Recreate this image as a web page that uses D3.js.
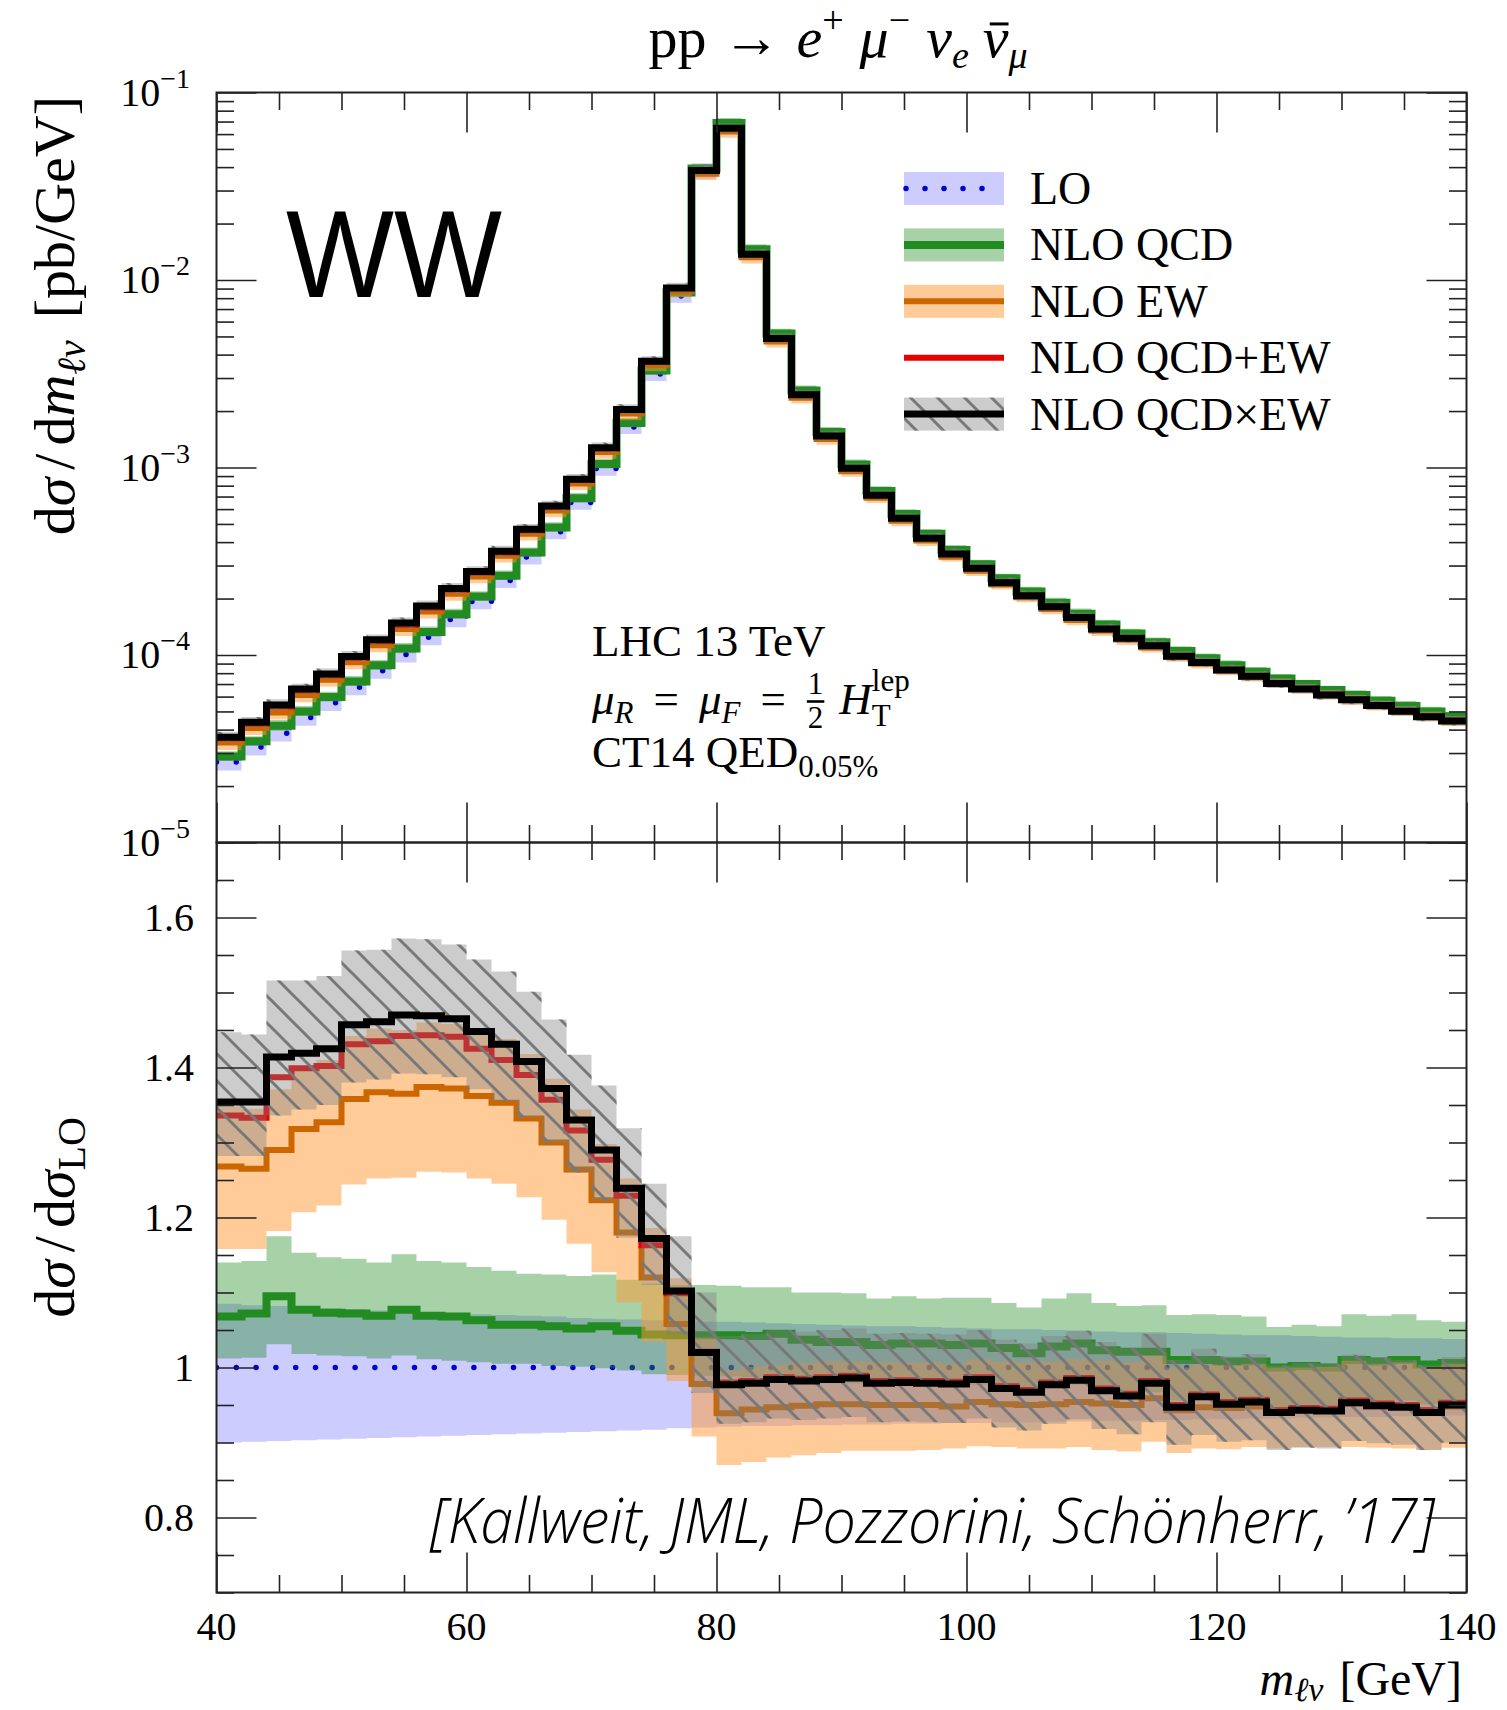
<!DOCTYPE html>
<html>
<head>
<meta charset="utf-8">
<title>WW: pp → e+ μ- νe ν̄μ</title>
<script src="https://cdn.jsdelivr.net/npm/d3@7"></script>
<style>
  html, body { margin: 0; padding: 0; background: #fff; }
  svg text { font-family: "Liberation Serif", "DejaVu Serif", serif; fill: #000; }
</style>
</head>
<body>
<svg id="chart" width="1507" height="1710" viewBox="0 0 1507 1710"></svg>
<script>
// ---------------- Binning: 2 GeV bins, 40–140 GeV ----------------
const massLow = [40, 42, 44, 46, 48, 50, 52, 54, 56, 58,
                 60, 62, 64, 66, 68, 70, 72, 74, 76, 78,
                 80, 82, 84, 86, 88, 90, 92, 94, 96, 98,
                 100, 102, 104, 106, 108, 110, 112, 114, 116, 118,
                 120, 122, 124, 126, 128, 130, 132, 134, 136, 138];
const massMax = 140;

// LO differential cross section dσ/dm_lν [pb/GeV]
const loXsec = [2.69e-5, 3.23e-5, 3.83e-5, 4.64e-5, 5.56e-5, 6.74e-5, 8.25e-5, 1.007e-4, 1.242e-4, 1.546e-4,
                1.927e-4, 2.50e-4, 3.33e-4, 4.54e-4, 6.51e-4, 9.88e-4, 1.646e-3, 3.15e-3, 8.22e-3, 3.765e-2,
                6.60e-2, 1.40e-2, 4.96e-3, 2.485e-3, 1.494e-3, 1.004e-3, 7.27e-4, 5.47e-4, 4.29e-4, 3.53e-4,
                2.95e-4, 2.50e-4, 2.14e-4, 1.85e-4, 1.61e-4, 1.42e-4, 1.275e-4, 1.145e-4, 1.04e-4, 9.5e-5,
                8.75e-5, 8.08e-5, 7.5e-5, 6.98e-5, 6.5e-5, 6.06e-5, 5.66e-5, 5.3e-5, 4.98e-5, 4.68e-5];

// LO scale band (ratio to LO)
const loBandLo = [0.900, 0.901, 0.902, 0.903, 0.904, 0.905, 0.906, 0.907, 0.908, 0.909,
                  0.910, 0.911, 0.912, 0.913, 0.914, 0.915, 0.916, 0.917, 0.919, 0.920,
                  0.921, 0.922, 0.922, 0.923, 0.923, 0.924, 0.924, 0.925, 0.925, 0.926,
                  0.926, 0.927, 0.927, 0.928, 0.928, 0.929, 0.929, 0.930, 0.930, 0.931,
                  0.931, 0.932, 0.932, 0.933, 0.933, 0.934, 0.934, 0.935, 0.935, 0.936];
const loBandHi = [1.085, 1.083, 1.082, 1.080, 1.079, 1.078, 1.076, 1.075, 1.074, 1.072,
                  1.071, 1.070, 1.069, 1.068, 1.066, 1.065, 1.064, 1.063, 1.062, 1.061,
                  1.061, 1.060, 1.059, 1.058, 1.057, 1.056, 1.055, 1.055, 1.054, 1.053,
                  1.052, 1.051, 1.051, 1.050, 1.049, 1.048, 1.047, 1.047, 1.046, 1.045,
                  1.044, 1.043, 1.043, 1.042, 1.041, 1.040, 1.040, 1.039, 1.039, 1.038];

// NLO QCD (ratio to LO)
const qcdRatio = [1.068, 1.072, 1.095, 1.077, 1.073, 1.072, 1.069, 1.077, 1.069, 1.068,
                  1.063, 1.057, 1.057, 1.055, 1.052, 1.055, 1.049, 1.044, 1.043, 1.043,
                  1.043, 1.042, 1.045, 1.037, 1.034, 1.034, 1.030, 1.032, 1.032, 1.030,
                  1.032, 1.026, 1.019, 1.028, 1.032, 1.023, 1.021, 1.021, 1.010, 1.010,
                  1.008, 1.008, 1.000, 1.002, 1.000, 1.010, 1.008, 1.010, 1.004, 1.006];
const qcdLo = [1.012, 1.013, 1.031, 1.018, 1.016, 1.015, 1.012, 1.016, 1.011, 1.009,
               1.007, 1.005, 1.005, 1.002, 1.001, 0.999, 0.996, 0.991, 0.990, 0.989,
               0.988, 0.987, 0.990, 0.982, 0.979, 0.979, 0.975, 0.977, 0.977, 0.975,
               0.977, 0.972, 0.965, 0.974, 0.977, 0.969, 0.967, 0.967, 0.956, 0.956,
               0.955, 0.955, 0.947, 0.949, 0.947, 0.956, 0.955, 0.956, 0.951, 0.953];
const qcdHi = [1.140, 1.142, 1.175, 1.153, 1.147, 1.145, 1.140, 1.151, 1.142, 1.140,
               1.134, 1.129, 1.125, 1.124, 1.122, 1.124, 1.117, 1.112, 1.110, 1.110,
               1.109, 1.107, 1.107, 1.100, 1.100, 1.099, 1.092, 1.095, 1.092, 1.093,
               1.093, 1.086, 1.080, 1.092, 1.099, 1.086, 1.082, 1.083, 1.070, 1.071,
               1.070, 1.068, 1.054, 1.057, 1.055, 1.071, 1.069, 1.071, 1.063, 1.061];

// NLO EW (ratio to LO)
const ewRatio = [1.268, 1.265, 1.290, 1.318, 1.327, 1.358, 1.367, 1.365, 1.374, 1.372,
                 1.362, 1.353, 1.332, 1.300, 1.264, 1.223, 1.180, 1.120, 1.058, 0.978,
                 0.939, 0.944, 0.947, 0.949, 0.951, 0.951, 0.950, 0.950, 0.950, 0.948,
                 0.954, 0.951, 0.950, 0.951, 0.954, 0.952, 0.950, 0.959, 0.943, 0.947,
                 0.946, 0.948, 0.943, 0.943, 0.944, 0.952, 0.948, 0.950, 0.943, 0.948];
const ewLo = [1.158, 1.158, 1.182, 1.207, 1.216, 1.244, 1.252, 1.253, 1.261, 1.260,
              1.252, 1.245, 1.227, 1.197, 1.165, 1.127, 1.087, 1.035, 0.982, 0.908,
              0.870, 0.874, 0.880, 0.883, 0.886, 0.889, 0.889, 0.889, 0.890, 0.892,
              0.895, 0.894, 0.892, 0.892, 0.894, 0.890, 0.888, 0.901, 0.886, 0.892,
              0.891, 0.894, 0.892, 0.894, 0.894, 0.894, 0.893, 0.892, 0.890, 0.893];
const ewHi = [1.348, 1.345, 1.371, 1.400, 1.410, 1.442, 1.452, 1.450, 1.460, 1.458,
              1.448, 1.438, 1.418, 1.385, 1.344, 1.298, 1.252, 1.186, 1.119, 1.040,
              0.996, 1.001, 1.004, 1.006, 1.008, 1.008, 1.007, 1.007, 1.007, 1.005,
              1.011, 1.008, 1.007, 1.008, 1.011, 1.009, 1.007, 1.016, 1.000, 1.004,
              1.003, 1.005, 1.000, 1.000, 1.001, 1.009, 1.005, 1.007, 1.000, 1.005];

// NLO QCD+EW (ratio to LO)
const qcdPlusEwRatio = [1.336, 1.333, 1.387, 1.399, 1.402, 1.431, 1.435, 1.442, 1.443, 1.441,
                        1.425, 1.410, 1.390, 1.357, 1.316, 1.277, 1.229, 1.163, 1.099, 1.021,
                        0.980, 0.982, 0.987, 0.985, 0.987, 0.989, 0.982, 0.983, 0.982, 0.981,
                        0.987, 0.975, 0.970, 0.980, 0.986, 0.972, 0.965, 0.982, 0.950, 0.964,
                        0.954, 0.957, 0.943, 0.946, 0.945, 0.956, 0.952, 0.950, 0.943, 0.953];

// NLO QCD×EW (ratio to LO)
const qcdTimesEwRatio = [1.354, 1.354, 1.414, 1.419, 1.425, 1.457, 1.461, 1.470, 1.469, 1.465,
                         1.448, 1.431, 1.408, 1.372, 1.330, 1.290, 1.239, 1.172, 1.102, 1.020,
                         0.977, 0.979, 0.984, 0.982, 0.984, 0.986, 0.979, 0.980, 0.979, 0.978,
                         0.984, 0.972, 0.967, 0.977, 0.983, 0.969, 0.962, 0.979, 0.947, 0.961,
                         0.951, 0.954, 0.940, 0.943, 0.942, 0.953, 0.949, 0.947, 0.940, 0.950];
const qcdTimesEwLo = [1.282, 1.282, 1.336, 1.344, 1.350, 1.380, 1.384, 1.392, 1.391, 1.387,
                      1.371, 1.355, 1.333, 1.299, 1.260, 1.222, 1.173, 1.110, 1.044, 0.966,
                      0.925, 0.927, 0.932, 0.930, 0.932, 0.934, 0.927, 0.928, 0.927, 0.926,
                      0.932, 0.920, 0.916, 0.925, 0.931, 0.918, 0.911, 0.927, 0.897, 0.910,
                      0.901, 0.903, 0.890, 0.893, 0.892, 0.902, 0.899, 0.897, 0.890, 0.900];
const qcdTimesEwHi = [1.447, 1.444, 1.516, 1.516, 1.522, 1.556, 1.557, 1.572, 1.571, 1.564,
                      1.544, 1.528, 1.501, 1.464, 1.417, 1.376, 1.319, 1.245, 1.175, 1.100,
                      1.042, 1.045, 1.050, 1.048, 1.050, 1.052, 1.045, 1.046, 1.045, 1.044,
                      1.050, 1.037, 1.032, 1.042, 1.049, 1.034, 1.026, 1.045, 1.010, 1.025,
                      1.015, 1.018, 1.003, 1.006, 1.005, 1.017, 1.013, 1.010, 1.003, 1.014];

// Axis ticks and labels
const xMajorTicks = [40, 60, 80, 100, 120, 140];
const xMinorTicks = [40, 45, 50, 55, 60, 65, 70, 75, 80, 85, 90, 95, 100, 105, 110, 115, 120, 125, 130, 135, 140];
const xsecDecades = [1e-5, 1e-4, 1e-3, 1e-2, 1e-1];
const xsecDecadeExponents = ["−5", "−4", "−3", "−2", "−1"];
const ratioMajorTicks = [0.8, 1.0, 1.2, 1.4, 1.6];
const ratioTickLabels = ["0.8", "1", "1.2", "1.4", "1.6"];
const ratioMinorTicks = [0.70, 0.75, 0.80, 0.85, 0.90, 0.95, 1.00, 1.05, 1.10, 1.15, 1.20,
                         1.25, 1.30, 1.35, 1.40, 1.45, 1.50, 1.55, 1.60, 1.65, 1.70];
const legendLabels = ["LO", "NLO QCD", "NLO EW", "NLO QCD+EW", "NLO QCD×EW"];

// ---------------- Layout and scales ----------------
const L = 216.5, R = 1466.5, T = 92.5, M = 842.5, B = 1592.5;
const svg = d3.select("#chart");
const defs = svg.append("defs");

const x = d3.scaleLinear().domain([40, 140]).range([L, R]);
const yXs = d3.scaleLog().domain([1e-5, 1e-1]).range([M, T]);
const yRat = d3.scaleLinear().domain([0.7, 1.7]).range([B, M]);

defs.append("clipPath").attr("id", "clipTop").append("rect")
  .attr("x", L).attr("y", T).attr("width", R - L).attr("height", M - T);
defs.append("clipPath").attr("id", "clipBot").append("rect")
  .attr("x", L).attr("y", M).attr("width", R - L).attr("height", B - M);

const hatch = defs.append("pattern").attr("id", "hatch")
  .attr("patternUnits", "userSpaceOnUse").attr("width", 27).attr("height", 27);
hatch.append("path").attr("d", "M-7,20L7,34M0,0L27,27M20,-7L34,7")
  .attr("stroke", "#787878").attr("stroke-width", 3).attr("fill", "none");

const unity = massLow.map(() => 1);

// Drawing order: each band is followed by its central line; QCD×EW on top
const styles = {
  lo:    { fill: "#ccccff", stroke: "#0000cc", width: 5.5, dash: "0 19.8" },
  qcd:   { fill: "rgba(34,139,34,0.4)", stroke: "#228b22", width: 8 },
  ew:    { fill: "rgba(255,153,51,0.5)", stroke: "#cc6600", width: 6 },
  sum:   { stroke: "#e60000", width: 6 },
  prod:  { fill: "rgba(128,128,128,0.4)", stroke: "#000", width: 7 }
};
const layers = [
  { kind: "band", lo: loBandLo, hi: loBandHi, s: styles.lo },
  { kind: "line", v: unity, s: styles.lo },
  { kind: "band", lo: qcdLo, hi: qcdHi, s: styles.qcd },
  { kind: "line", v: qcdRatio, s: styles.qcd },
  { kind: "band", lo: ewLo, hi: ewHi, s: styles.ew },
  { kind: "line", v: ewRatio, s: styles.ew },
  { kind: "line", v: qcdPlusEwRatio, s: styles.sum },
  { kind: "band", lo: qcdTimesEwLo, hi: qcdTimesEwHi, s: styles.prod, hatch: true },
  { kind: "line", v: qcdTimesEwRatio, s: styles.prod }
];

function stepPoints(fn) {
  const pts = massLow.map((m, i) => Object.assign({ m }, fn(i)));
  pts.push(Object.assign({}, pts[pts.length - 1], { m: massMax }));
  return pts;
}

function drawPanel(clipId, yScale, toPanel) {
  const g = svg.append("g").attr("clip-path", `url(#${clipId})`);
  const line = d3.line().x(d => x(d.m)).y(d => yScale(d.v)).curve(d3.curveStepAfter);
  const area = d3.area().x(d => x(d.m)).y0(d => yScale(d.lo)).y1(d => yScale(d.hi)).curve(d3.curveStepAfter);
  layers.forEach(ly => {
    if (ly.kind === "band") {
      const pts = stepPoints(i => ({ lo: toPanel(i, ly.lo[i]), hi: toPanel(i, ly.hi[i]) }));
      g.append("path").attr("d", area(pts)).attr("fill", ly.s.fill);
      if (ly.hatch) g.append("path").attr("d", area(pts)).attr("fill", "url(#hatch)");
    } else {
      const pts = stepPoints(i => ({ v: toPanel(i, ly.v[i]) }));
      const p = g.append("path").attr("d", line(pts)).attr("fill", "none")
        .attr("stroke", ly.s.stroke).attr("stroke-width", ly.s.width)
        .attr("stroke-linejoin", "miter");
      if (ly.s.dash) p.attr("stroke-dasharray", ly.s.dash).attr("stroke-linecap", "round");
    }
  });
}

drawPanel("clipTop", yXs, (i, r) => loXsec[i] * r);
drawPanel("clipBot", yRat, (i, r) => r);

// ---------------- Frames and ticks ----------------
const axes = svg.append("g");
function tickRow(transform, axisFn, scale, values, size) {
  const g = axes.append("g").attr("transform", transform);
  g.call(axisFn(scale).tickValues(values).tickSize(size).tickFormat(""));
  g.select(".domain").remove();
  g.selectAll(".tick line").attr("stroke", "#222").attr("stroke-width", 1.6);
}
const xMinorOnly = xMinorTicks.filter(v => xMajorTicks.indexOf(v) < 0);
[[T, d3.axisBottom], [M, d3.axisTop], [M, d3.axisBottom], [B, d3.axisTop]].forEach(([yy, fn]) => {
  tickRow(`translate(0,${yy})`, fn, x, xMinorOnly, 17.5);
  tickRow(`translate(0,${yy})`, fn, x, xMajorTicks, 40);
});
const logMinor = yXs.ticks().filter(v => Math.abs(Math.log10(v) - Math.round(Math.log10(v))) > 1e-6);
const ratMinorOnly = ratioMinorTicks.filter(v => !ratioMajorTicks.some(t => Math.abs(t - v) < 1e-9));
[[L, d3.axisRight], [R, d3.axisLeft]].forEach(([xx, fn]) => {
  tickRow(`translate(${xx},0)`, fn, yXs, logMinor, 17.5);
  tickRow(`translate(${xx},0)`, fn, yXs, xsecDecades, 40);
  tickRow(`translate(${xx},0)`, fn, yRat, ratMinorOnly, 17.5);
  tickRow(`translate(${xx},0)`, fn, yRat, ratioMajorTicks, 40);
});
axes.append("rect").attr("x", L).attr("y", T).attr("width", R - L).attr("height", M - T)
  .attr("fill", "none").attr("stroke", "#222").attr("stroke-width", 2);
axes.append("rect").attr("x", L).attr("y", M).attr("width", R - L).attr("height", B - M)
  .attr("fill", "none").attr("stroke", "#222").attr("stroke-width", 2);

// ---------------- Tick labels ----------------
const labels = svg.append("g");
xMajorTicks.forEach(v => {
  labels.append("text").attr("x", x(v)).attr("y", 1640).attr("text-anchor", "middle")
    .attr("font-size", 40).text(v);
});
xsecDecades.forEach((v, i) => {
  const t = labels.append("text").attr("x", 190).attr("y", yXs(v) + 13)
    .attr("text-anchor", "end").attr("font-size", 40);
  t.append("tspan").text("10");
  t.append("tspan").attr("dy", -18).attr("font-size", 28).text(xsecDecadeExponents[i]);
});
ratioMajorTicks.forEach((v, i) => {
  labels.append("text").attr("x", 194).attr("y", yRat(v) + 13).attr("text-anchor", "end")
    .attr("font-size", 40).text(ratioTickLabels[i]);
});

// ---------------- Rich text helper ----------------
function rich(parent, parts, base) {
  const g = parent.append("g");
  let cx = 0, lastStart = 0;
  parts.forEach(p => {
    if (p.gap) { cx += p.gap; return; }
    if (p.frac) {
      const fs = p.fs || 28;
      const a = g.append("text").attr("font-size", fs).attr("text-anchor", "middle").text(p.frac[0]);
      const b = g.append("text").attr("font-size", fs).attr("text-anchor", "middle").text(p.frac[1]);
      const w = Math.max(a.node().getComputedTextLength(), b.node().getComputedTextLength()) + 4;
      const cxm = cx + w / 2;
      a.attr("x", cxm).attr("y", -20);
      b.attr("x", cxm).attr("y", 14);
      g.append("line").attr("x1", cx + 1).attr("x2", cx + w - 1).attr("y1", -12.5).attr("y2", -12.5)
        .attr("stroke", "#000").attr("stroke-width", 2.6);
      lastStart = cx; cx += w;
      return;
    }
    const start = p.overlay ? lastStart : cx;
    const t = g.append("text").attr("x", start).attr("y", p.dy || 0)
      .attr("font-size", p.fs || base).text(p.t);
    if (p.it) t.attr("font-style", "italic");
    const w = t.node().getComputedTextLength();
    if (p.bar) {
      const fs = p.fs || base;
      g.append("line").attr("x1", start + 0.12 * fs).attr("x2", start + w).attr("y1", -0.57 * fs).attr("y2", -0.57 * fs)
        .attr("stroke", "#000").attr("stroke-width", 3);
    }
    if (p.overlay) cx = Math.max(cx, start + w);
    else { lastStart = start; cx = start + w; }
  });
  return { g, width: cx };
}

// Title
const title = rich(svg, [
  { t: "pp" }, { gap: 16 }, { t: "→" }, { gap: 16 },
  { t: "e", it: 1 }, { t: "+", fs: 38, dy: -24 }, { gap: 16 },
  { t: "μ", it: 1 }, { t: "−", fs: 38, dy: -24 }, { gap: 16 },
  { t: "ν", it: 1 }, { t: "e", it: 1, fs: 38, dy: 11 }, { gap: 14 },
  { t: "ν", it: 1, bar: 1 }, { t: "μ", it: 1, fs: 38, dy: 11 }
], 58);
title.g.attr("transform", `translate(${838 - title.width / 2},57)`);

// Axis labels
const yTop = rich(svg, [
  { t: "d" }, { t: "σ", it: 1 }, { gap: 8 }, { t: "/" }, { gap: 8 }, { t: "d" }, { t: "m", it: 1 },
  { t: "ℓν", it: 1, fs: 40, dy: 11 }, { gap: 22 }, { t: "[pb/GeV]" }
], 58);
yTop.g.attr("transform", `translate(74,96) rotate(-90) translate(${-yTop.width},0)`);

const yBot = rich(svg, [
  { t: "d" }, { t: "σ", it: 1 }, { gap: 8 }, { t: "/" }, { gap: 8 }, { t: "d" }, { t: "σ", it: 1 },
  { t: "LO", fs: 40, dy: 11 }
], 58);
yBot.g.attr("transform", `translate(74,${(M + B) / 2}) rotate(-90) translate(${-yBot.width / 2},0)`);

const xLab = rich(svg, [
  { t: "m", it: 1 }, { t: "ℓν", it: 1, fs: 34, dy: 6 }, { gap: 16 }, { t: "[GeV]" }
], 48);
xLab.g.attr("transform", `translate(${1462 - xLab.width},1695)`);

// Process tag
svg.append("text").attr("x", 286).attr("y", 297)
  .style("font-family", "'Liberation Sans', Arial, sans-serif")
  .attr("font-size", 124).attr("textLength", 216).attr("lengthAdjust", "spacingAndGlyphs")
  .text("WW");

// Setup annotation
const info1 = rich(svg, [{ t: "LHC 13 TeV" }], 45);
info1.g.attr("transform", "translate(592,656)");
const info2 = rich(svg, [
  { t: "μ", it: 1 }, { t: "R", it: 1, fs: 31, dy: 9 }, { gap: 20 }, { t: "=" }, { gap: 20 },
  { t: "μ", it: 1 }, { t: "F", it: 1, fs: 31, dy: 9 }, { gap: 20 }, { t: "=" }, { gap: 20 },
  { frac: ["1", "2"], fs: 31 }, { gap: 14 },
  { t: "H", it: 1 }, { t: "T", fs: 31, dy: 12 }, { t: "lep", fs: 31, dy: -23, overlay: true }
], 45);
info2.g.attr("transform", "translate(592,714)");
const info3 = rich(svg, [{ t: "CT14 QED" }, { t: "0.05%", fs: 31, dy: 10 }], 45);
info3.g.attr("transform", "translate(592,767)");

// Citation
svg.append("text").attr("x", 430).attr("y", 1543)
  .style("font-family", "'Open Sans', 'Noto Sans', sans-serif")
  .style("font-style", "italic").style("font-weight", 300)
  .attr("font-size", 62).attr("textLength", 1005).attr("lengthAdjust", "spacingAndGlyphs")
  .text("[Kallweit, JML, Pozzorini, Schönherr, ’17]");

// ---------------- Legend ----------------
const legend = svg.append("g");
const legX0 = 904, legX1 = 1004, legH = 33;
const legendStyles = [styles.lo, styles.qcd, styles.ew, styles.sum, styles.prod];
legendLabels.forEach((lab, k) => {
  const cy = 188.5 + k * 56.4;
  const s = legendStyles[k];
  if (s.fill) {
    legend.append("rect").attr("x", legX0).attr("y", cy - legH / 2).attr("width", legX1 - legX0)
      .attr("height", legH).attr("fill", s.fill);
    if (k === 4) legend.append("rect").attr("x", legX0).attr("y", cy - legH / 2).attr("width", legX1 - legX0)
      .attr("height", legH).attr("fill", "url(#hatch)");
  }
  const ln = legend.append("line").attr("x1", k === 0 ? legX0 + 2 : legX0).attr("x2", k === 0 ? legX1 - 3 : legX1)
    .attr("y1", cy).attr("y2", cy).attr("stroke", s.stroke).attr("stroke-width", s.width);
  if (s.dash) ln.attr("stroke-dasharray", "0 19").attr("stroke-linecap", "round");
  legend.append("text").attr("x", 1030).attr("y", cy + 15.5).attr("font-size", 46).text(lab);
});
</script>
</body>
</html>
